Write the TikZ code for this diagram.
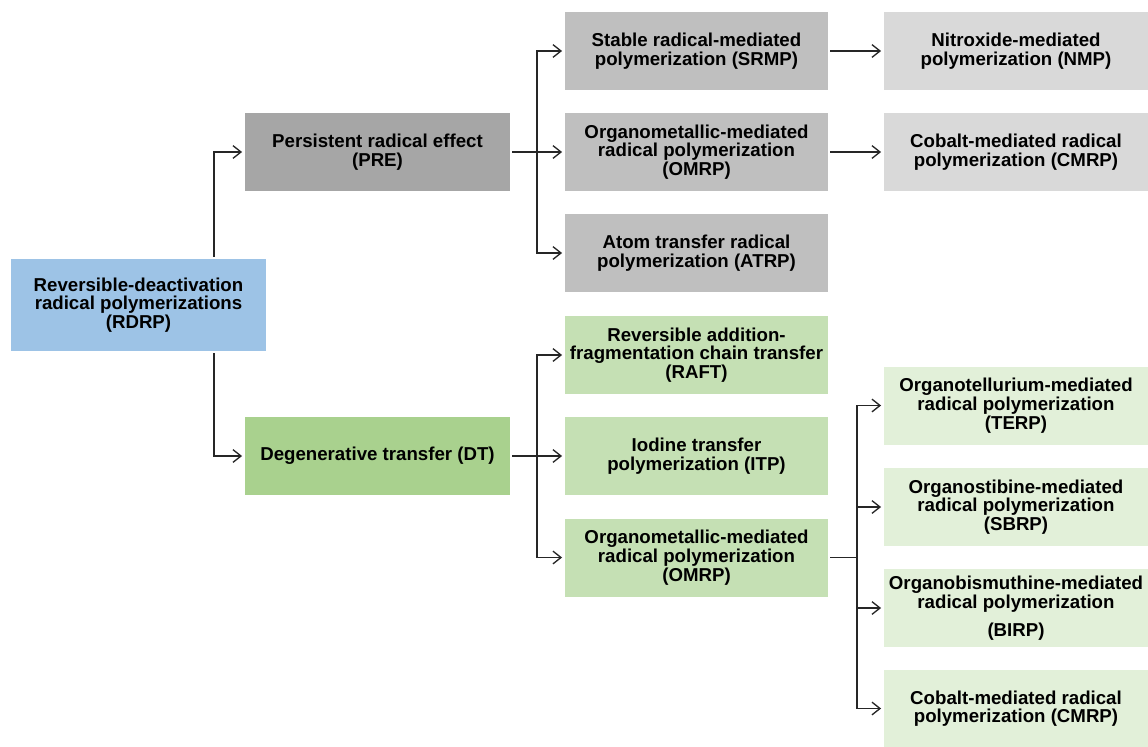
\documentclass[tikz,border=0pt]{standalone}
\usepackage{fontspec}
\setmainfont{Liberation Sans}
\usetikzlibrary{arrows.meta}
\definecolor{cblue}{HTML}{9DC3E6}
\definecolor{gdark}{HTML}{A6A6A6}
\definecolor{gmid}{HTML}{BFBFBF}
\definecolor{glight}{HTML}{D9D9D9}
\definecolor{grdark}{HTML}{A9D18E}
\definecolor{grmid}{HTML}{C5E0B4}
\definecolor{grlight}{HTML}{E2F0D9}
\definecolor{linec}{HTML}{262626}
\begin{document}
\begin{tikzpicture}[x=0.75pt,y=-0.75pt,
  box/.style={inner sep=0pt, align=center, minimum height=58.5pt,
    font=\bfseries\fontsize{14}{14}\selectfont, text=black},
  colbox/.style={box, minimum width=197.25pt},
  midbox/.style={box, minimum width=198.75pt},
  rightbox/.style={box, minimum width=198pt},
  conn/.style={draw=linec, line width=1pt, shorten <=1.5pt},
  arr/.style={conn, -{Straight Barb[length=6pt,width=9.5pt,line width=1pt]}, shorten >=2pt}
]
\useasboundingbox (0,0) rectangle (1148,746);
\fill[white] (0,0) rectangle (1148,746);

% root
\node[box, fill=cblue, minimum width=191.25pt, minimum height=69pt] (rdrp) at (138.5,305)
  {Reversible-deactivation\\radical polymerizations\\(RDRP)};

% level 1
\node[midbox, fill=gdark] (pre) at (377.5,152) {Persistent radical effect\\(PRE)};
\node[midbox, fill=grdark] (dt) at (377.5,456) {Degenerative transfer (DT)};

% level 2 (gray)
\node[colbox, fill=gmid] (srmp) at (696.5,51) {Stable radical-mediated\\polymerization (SRMP)};
\node[colbox, fill=gmid] (omrpa) at (696.5,152) {Organometallic-mediated\\radical polymerization\\(OMRP)};
\node[colbox, fill=gmid] (atrp) at (696.5,253) {Atom transfer radical\\polymerization (ATRP)};

% level 2 (green)
\node[colbox, fill=grmid] (raft) at (696.5,355) {Reversible addition-\\fragmentation chain transfer\\(RAFT)};
\node[colbox, fill=grmid] (itp) at (696.5,456) {Iodine transfer\\polymerization (ITP)};
\node[colbox, fill=grmid] (omrpb) at (696.5,557.5) {Organometallic-mediated\\radical polymerization\\(OMRP)};

% level 3 (gray)
\node[rightbox, fill=glight] (nmp) at (1016,51) {Nitroxide-mediated\\polymerization (NMP)};
\node[rightbox, fill=glight] (cmrpa) at (1016,152) {Cobalt-mediated radical\\polymerization (CMRP)};

% level 3 (green)
\node[rightbox, fill=grlight] (terp) at (1016,405.5) {Organotellurium-mediated\\radical polymerization\\(TERP)};
\node[rightbox, fill=grlight] (sbrp) at (1016,507) {Organostibine-mediated\\radical polymerization\\(SBRP)};
\node[rightbox, fill=grlight] (birp) at (1016,608) {Organobismuthine-mediated\\radical polymerization\\[7pt](BIRP)};
\node[rightbox, fill=grlight] (cmrpb) at (1016,708.5) {Cobalt-mediated radical\\polymerization (CMRP)};

% junction coordinates
\coordinate (j0) at (214,305);
\coordinate (j1) at (537,152);
\coordinate (j2) at (537,456);
\coordinate (j3) at (857,557.5);

% root connectors
\draw[arr] (rdrp.north -| j0) |- (pre.west);
\draw[arr] (rdrp.south -| j0) |- (dt.west);

% PRE branch
\draw[arr] (pre.east) -- (omrpa.west);
\draw[arr, shorten <=0pt] (j1) |- (srmp.west);
\draw[arr, shorten <=0pt] (j1) |- (atrp.west);
\draw[arr] (srmp.east) -- (nmp.west);
\draw[arr] (omrpa.east) -- (cmrpa.west);

% DT branch
\draw[arr] (dt.east) -- (itp.west);
\draw[arr, shorten <=0pt] (j2) |- (raft.west);
\draw[arr, shorten <=0pt] (j2) |- (omrpb.west);

% OMRP branch
\draw[conn] (omrpb.east) -- (j3);
\draw[arr, shorten <=0pt] (j3) |- (terp.west);
\draw[arr, shorten <=0pt] (j3) |- (sbrp.west);
\draw[arr, shorten <=0pt] (j3) |- (birp.west);
\draw[arr, shorten <=0pt] (j3) |- (cmrpb.west);
\end{tikzpicture}
\end{document}
